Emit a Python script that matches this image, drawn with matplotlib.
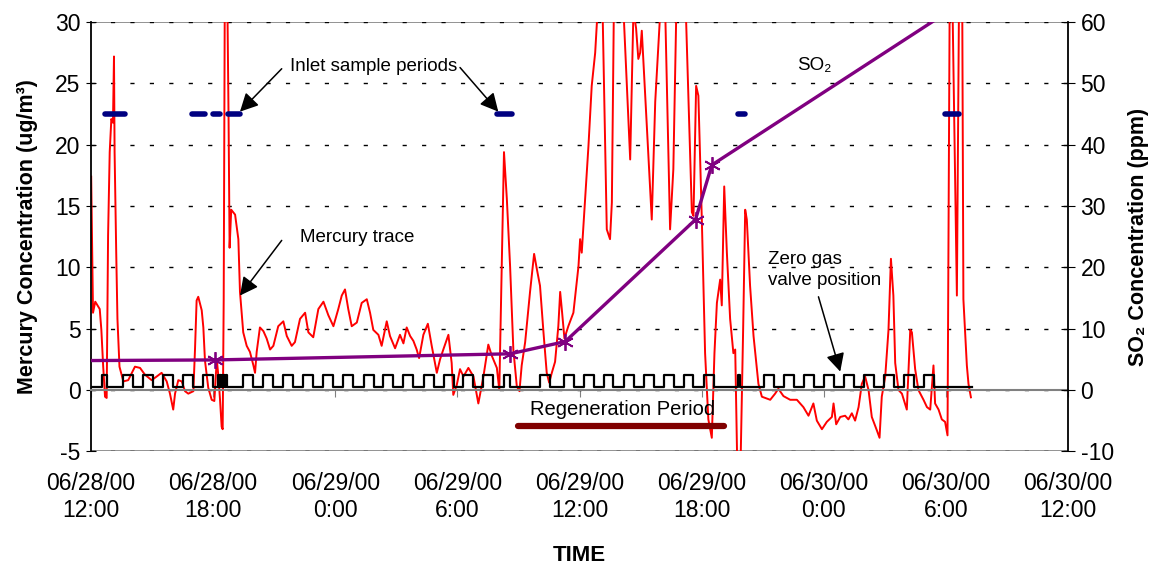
import matplotlib
matplotlib.use('Agg')
import matplotlib.pyplot as plt
import numpy as np

plt.rcParams['font.family'] = ['Liberation Sans', 'DejaVu Sans']
plt.rcParams['axes.unicode_minus'] = False

# time axis: hours after 06/28/00 12:00
hg_hours = [0.01, 0.10, 0.21, 0.43, 0.51, 0.60, 0.69, 0.77, 0.84, 0.92, 1.00, 1.08, 1.13, 1.16, 1.24,
            1.30, 1.40, 1.59, 1.83, 2.16, 2.41, 2.65, 2.98, 3.23, 3.47, 3.72, 3.88, 4.04, 4.13, 4.29,
            4.46, 4.62, 4.78, 5.03, 5.11, 5.19, 5.27, 5.44, 5.52, 5.60, 5.76, 5.93, 6.06, 6.18, 6.26,
            6.34, 6.42, 6.47, 6.52, 6.58, 6.68, 6.76, 6.81, 6.89, 7.08, 7.24, 7.32, 7.48, 7.65, 7.81,
            7.98, 8.06, 8.14, 8.30, 8.47, 8.63, 8.80, 8.96, 9.20, 9.45, 9.62, 9.86, 10.02, 10.27, 10.52,
            10.68, 10.92, 11.17, 11.42, 11.66, 11.91, 12.15, 12.32, 12.48, 12.64, 12.81, 13.06, 13.30, 13.55, 13.71,
            13.87, 14.12, 14.28, 14.53, 14.69, 14.94, 15.18, 15.35, 15.51, 15.68, 15.84, 16.00, 16.12, 16.33, 16.55,
            16.74, 16.99, 17.15, 17.31, 17.56, 17.72, 17.80, 17.97, 18.13, 18.30, 18.54, 18.79, 19.03, 19.28, 19.52,
            19.69, 19.94, 20.06, 20.29, 20.43, 20.59, 20.75, 20.92, 21.05, 21.16, 21.33, 21.57, 21.77, 21.90, 22.06,
            22.23, 22.39, 22.51, 22.64, 22.80, 22.96, 23.05, 23.13, 23.26, 23.45, 23.70, 23.95, 24.03, 24.11, 24.44,
            24.60, 24.77, 24.96, 25.11, 25.34, 25.50, 25.59, 25.70, 25.95, 26.16, 26.49, 26.65, 26.78, 26.89, 26.98,
            27.06, 27.55, 27.72, 28.04, 28.21, 28.45, 28.61, 28.78, 29.04, 29.24, 29.52, 29.60, 29.73, 29.84, 29.93,
            30.01, 30.17, 30.33, 30.50, 30.63, 30.75, 30.91, 30.99, 31.11, 31.24, 31.40, 31.56, 31.65, 31.77, 31.89,
            32.04, 32.14, 32.22, 32.38, 32.55, 32.79, 32.96, 33.20, 33.37, 33.61, 33.77, 34.02, 34.35, 34.68, 35.00,
            35.25, 35.49, 35.66, 35.91, 36.15, 36.40, 36.48, 36.61, 36.81, 37.05, 37.21, 37.38, 37.54, 37.71, 37.87,
            38.03, 38.20, 38.36, 38.61, 38.74, 38.85, 39.02, 39.18, 39.30, 39.42, 39.51, 39.67, 39.84, 40.08, 40.25,
            40.33, 40.49, 40.65, 40.90, 41.07, 41.23, 41.39, 41.47, 41.64, 41.80, 41.96, 42.08, 42.19, 42.31, 42.54,
            42.65, 42.80, 42.86, 43.03, 43.11, 43.23]
hg_conc = [17.4, 6.3, 7.2, 6.6, 4.9, 1.9, -0.55, -0.65, 12.6, 19.4, 22.1, 21.8, 27.2, 19.4, 11.2,
           5.8, 1.9, 0.7, 0.8, 1.9, 1.8, 1.25, 0.8, 1.1, 1.4, 0.7, -0.3, -1.6, -0.3, 0.8,
           0.7, -0.1, -0.3, -0.1, 3.3, 7.3, 7.6, 6.5, 5.1, 2.4, 0.2, -0.8, -0.9, 2.5, 1.1,
           -0.8, -3.0, -3.2, 7.3, 35, 35, 22, 11.6, 14.7, 14.3, 12.3, 8.0, 4.7, 3.6, 3.1,
           2.0, 1.4, 3.1, 5.1, 4.8, 4.2, 3.3, 3.6, 5.2, 5.6, 4.4, 3.6, 3.9, 5.8, 6.3,
           4.7, 4.3, 6.6, 7.2, 6.1, 5.2, 6.6, 7.7, 8.2, 6.6, 5.2, 5.5, 7.1, 7.4, 6.3,
           4.9, 4.5, 3.6, 5.6, 4.4, 3.4, 4.5, 3.8, 5.1, 4.4, 4.0, 3.3, 2.6, 4.5, 5.4,
           3.6, 1.4, 2.5, 3.3, 4.5, 2.2, -0.4, 0.4, 1.7, 1.1, 1.8, 1.1, -1.1, 1.1, 3.7,
           2.8, 1.8, 0.0, 19.4, 15.6, 10.1, 3.3, 0.3, -0.1, 2.0, 3.9, 8.0, 11.1, 9.9, 8.5,
           4.7, 1.4, 0.6, 1.4, 2.3, 5.2, 8.0, 6.6, 4.2, 5.2, 6.3, 10.1, 12.3, 11.2, 19.9,
           24.8, 27.5, 33, 33, 13.1, 12.3, 15.3, 33, 33, 31, 18.8, 31, 29.5, 27, 27.5,
           29.3, 13.9, 23.5, 33, 31, 13.1, 18, 33, 33, 30, 14.5, 14.2, 24.8, 24, 18.8,
           13.9, 3.0, -2.4, -3.9, 3.0, 7.1, 9.0, 6.9, 16.6, 11.2, 5.8, 3.0, 3.3, -8, -8,
           5, 14.7, 13.9, 8.5, 4.4, 0.5, -0.55, -0.7, -0.8, -0.3, 0.1, -0.5, -0.8, -0.8, -1.4,
           -2.1, -1.1, -2.5, -3.2, -2.6, -2.2, -1.1, -2.8, -2.2, -2.1, -2.4, -1.9, -2.5, -1.4, 0.5,
           1.1, 0, -2.2, -3.3, -3.9, -0.55, 1.1, 4.9, 10.7, 7.7, 2.2, 0, -0.3, -1.6, 4.9,
           4.7, 1.7, 0, -0.8, -1.4, -1.6, 2.0, -1.1, -1.6, -2.4, -2.6, -3.7, 33, 33, 7.7,
           33, 33, 7.4, 2.0, 0.5, -0.6]

so2_hours = [0.0, 6.1, 20.6, 23.3, 29.7, 30.5, 42.0]
so2_ppm = [4.8, 4.9, 5.9, 7.9, 27.8, 36.7, 61.5]

inlet_periods = [(0.69, 1.67), (4.95, 5.60), (6.01, 6.34), (6.75, 7.32),
                 (19.94, 20.67), (31.81, 32.14), (41.97, 42.62)]
inlet_level = 22.5

# zero gas valve: (open, close) hours
valve_on = [(0.52, 0.77), (1.59, 2.08), (2.57, 3.06), (3.56, 4.05), (4.54, 5.03), (5.52, 6.01),
            (6.26, 6.31), (6.35, 6.40), (6.44, 6.49), (6.53, 6.58), (6.62, 6.68),
            (7.49, 7.98), (8.47, 8.96), (9.45, 9.94), (10.44, 10.93), (11.42, 11.91), (12.40, 12.89),
            (13.39, 13.88), (14.37, 14.86), (15.35, 15.84), (16.34, 16.83), (17.32, 17.81), (18.30, 18.79),
            (19.28, 19.77), (20.27, 20.60), (22.06, 22.55), (23.22, 23.71), (24.20, 24.69), (25.18, 25.67),
            (26.17, 26.66), (27.15, 27.64), (28.13, 28.62), (29.11, 29.60), (30.10, 30.59),
            (31.80, 31.90), (33.05, 33.54), (34.03, 34.52), (35.01, 35.50), (36.00, 36.49), (36.98, 37.47),
            (37.96, 38.45), (38.94, 39.43), (39.93, 40.42), (40.91, 41.40)]
valve_low, valve_high = 0.27, 1.22
valve_stop = 43.3

regen_period = (20.98, 31.1)
regen_level = -2.93

tick_hours = [0, 6, 12, 18, 24, 30, 36, 42, 48]
tick_labels = ['06/28/00\n12:00', '06/28/00\n18:00', '06/29/00\n0:00', '06/29/00\n6:00',
               '06/29/00\n12:00', '06/29/00\n18:00', '06/30/00\n0:00', '06/30/00\n6:00',
               '06/30/00\n12:00']

fig = plt.figure(figsize=(11.59, 5.68), dpi=100)
ax = fig.add_axes([0.0785, 0.2055, 0.843, 0.7555])
ax2 = ax.twinx()

# step trace of the valve
vt, vs = [0.0], [valve_low]
for s, e in valve_on:
    vt += [s, s, e, e]
    vs += [valve_low, valve_high, valve_high, valve_low]
vt.append(valve_stop)
vs.append(valve_low)

ax.set_xlim(0, 48)
ax.set_ylim(-5, 30)
ax.set_yticks(range(-5, 31, 5))
ax.yaxis.grid(True, color='black', linestyle=(0, (3, 11)), linewidth=1)
ax.set_axisbelow(True)
ax.axhline(30, color='gray', lw=1.2, zorder=0.5)
ax.axhline(-5, color='gray', lw=1.2, zorder=0.5)

ax.plot(hg_hours, hg_conc, color='#ff0000', lw=1.4, zorder=2)
ax.plot(vt, vs, color='black', lw=1.6, zorder=3)
for s, e in inlet_periods:
    ax.plot([s, e], [inlet_level, inlet_level], color='#000080', lw=4, solid_capstyle='round', zorder=4)
ax.plot(regen_period, [regen_level, regen_level], color='#800000', lw=4.5, solid_capstyle='round', zorder=4)

ax2.plot(so2_hours, so2_ppm, color='#800080', lw=2.4, marker=(6, 2, 0), markersize=12,
         markeredgewidth=1.3, markevery=[1, 2, 3, 4, 5], zorder=5)
ax2.set_ylim(-10, 60)
ax2.set_yticks(range(-10, 61, 10))

# axes styling
ax.spines['bottom'].set_position(('data', 0))
ax.spines['bottom'].set_color('gray')
ax.spines['bottom'].set_linewidth(1.5)
ax.spines['top'].set_visible(False)
ax.spines['right'].set_visible(False)
ax.spines['left'].set_linewidth(1.3)
for side in ['left', 'top', 'bottom']:
    ax2.spines[side].set_visible(False)
ax2.spines['right'].set_linewidth(1.3)

ax.set_xticks(tick_hours)
ax.set_xticklabels(tick_labels, fontsize=16.5)
ax.tick_params(axis='x', direction='out', length=5, color='gray', pad=54)
ax.tick_params(axis='y', direction='inout', length=7, labelsize=16.5, pad=4)
ax2.tick_params(axis='y', direction='inout', length=10, labelsize=16.5, pad=4)

ax.set_ylabel('Mercury Concentration (ug/m³)', fontsize=15.5, fontweight='bold', labelpad=12)
ax2.set_ylabel('SO₂ Concentration (ppm)', fontsize=15.5, fontweight='bold', labelpad=10)
fig.text(0.5, 0.022, 'TIME', fontsize=16, fontweight='bold', ha='center', va='center')

arrow = dict(arrowstyle='-|>,head_length=0.55,head_width=0.28', color='black', lw=1.1,
             mutation_scale=20, shrinkA=0, shrinkB=0)
ax.text(9.78, 26.4, 'Inlet sample periods', fontsize=13.5, va='center', ha='left')
ax.annotate('', xy=(7.32, 22.7), xytext=(9.37, 26.2), arrowprops=arrow)
ax.annotate('', xy=(20.01, 22.7), xytext=(18.13, 26.3), arrowprops=arrow)
ax.text(10.27, 12.4, 'Mercury trace', fontsize=13.5, va='center', ha='left')
ax.annotate('', xy=(7.32, 7.7), xytext=(9.37, 12.2), arrowprops=arrow)
ax.text(34.7, 26.5, 'SO₂', fontsize=13.5, va='center', ha='left')
ax.text(33.27, 9.8, 'Zero gas\nvalve position', fontsize=13.5, va='center', ha='left',
        linespacing=1.3)
ax.annotate('', xy=(36.81, 1.5), xytext=(35.74, 7.6), arrowprops=arrow)
ax.text(26.1, -1.6, 'Regeneration Period', fontsize=14.5, va='center', ha='center')

fig.savefig('out.png', dpi=100)
